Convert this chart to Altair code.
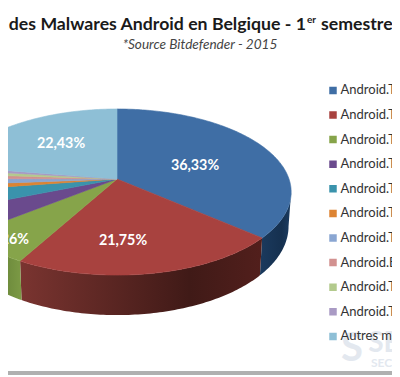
import math
import altair as alt

names = ["Android.Trojan.FakeInst", "Android.Trojan.SMSSend", "Android.Trojan.Agent",
         "Android.Trojan.Wkload", "Android.Trojan.Opfake", "Android.Trojan.Stealer",
         "Android.Trojan.Boxer", "Android.Exploit.GingerBreak", "Android.Trojan.Gepew",
         "Android.Trojan.Iop", "Autres malwares"]
values = [36.33, 21.75, 6.26, 4.6, 3.7, 1.15, 1.3, 0.9, 0.9, 0.68, 22.43]
face_colors = ["#3f6ea5", "#a8423f", "#86a44a", "#6a4a8d", "#3a93ac", "#dd8433",
               "#8aa6d2", "#d29190", "#b3ca8d", "#a99ac4", "#8ebfd6"]
side_stops = [
    ["#1b3a5e", "#15304f", "#1c3d62"],
    ["#7a3430", "#401a17", "#521f1c"],
    ["#6d8a3c", "#6d8a3c", "#7c9a45"],
    ["#4d3568", "#4d3568", "#4d3568"],
    ["#2a6f83", "#2a6f83", "#2a6f83"],
    ["#b06a28", "#b06a28", "#b06a28"],
]
title_left = "Top 10 des Malwares Android en Belgique - 1"
title_sup = "er"
title_right = "semestre 2015"
subtitle = "*Source Bitdefender - 2015"

# pie geometry (reference image coordinates)
APEX_X, APEX_Y, RX, RY, K = 117, 179, 172, 81, 0.157
FONT = "Lato"
PROJ = dict(type="identity", scale=1, translate=[-8, -8])


def rim(p):
    t = 2 * math.pi * p / 100
    d = 1 + K * math.cos(t)
    return APEX_X + RX * math.sin(t) / d, APEX_Y - RY * math.cos(t) / d


def lower(pt):
    x, y = pt
    return APEX_X + (x - APEX_X) * 0.985, y + 40 - (275 - y) * 0.07


def feature(ring, name):
    ring = [list(p) for p in ring]
    return {"type": "Feature", "properties": {"name": name},
            "geometry": {"type": "Polygon", "coordinates": [ring + [ring[0]]]}}


def frange(a, b):
    n = max(2, int((b - a) * 4))
    return [a + (b - a) * i / n for i in range(n + 1)]


layers = []
edges = [0.0]
for v in values:
    edges.append(edges[-1] + v)

# side walls
VISIBLE_FROM, VISIBLE_TO = 27.5, 75.0
for i, stops in enumerate(side_stops):
    a, b = max(edges[i], VISIBLE_FROM), min(edges[i + 1], VISIBLE_TO)
    if a >= b:
        continue
    top = [rim(p) for p in frange(a, b)]
    ring = top + [lower(p) for p in reversed(top)]
    grad = alt.Gradient(gradient="linear", x1=0, x2=1, y1=0, y2=0,
                        stops=[alt.GradientStop(color=stops[0], offset=0),
                               alt.GradientStop(color=stops[1], offset=0.7),
                               alt.GradientStop(color=stops[2], offset=1)])
    layers.append(alt.Chart(alt.Data(values=[feature(ring, names[i])]))
                  .mark_geoshape(fill=grad, strokeWidth=0, strokeOpacity=0)
                  .project(**PROJ))

# top face
faces = [feature([(APEX_X, APEX_Y)] + [rim(p) for p in frange(edges[i], edges[i + 1])], names[i])
         for i in range(len(names))]
color_scale = alt.Scale(domain=names, range=face_colors)
layers.append(
    alt.Chart(alt.Data(values=faces)).mark_geoshape(strokeWidth=0.6).encode(
        color=alt.Color("properties.name:N", scale=color_scale, sort=names,
                        legend=alt.Legend(title=None, orient="none", legendX=318.5, legendY=75.3,
                                          symbolType="square", symbolSize=56, symbolStrokeWidth=0,
                                          labelFont=FONT, labelFontSize=13, labelColor="#333333",
                                          labelLimit=300, labelOffset=1, rowPadding=9.6,
                                          symbolOpacity=1, clipHeight=14.2)),
        stroke=alt.Stroke("properties.name:N", scale=color_scale, legend=None),
    ).project(**PROJ)
)


def text(t, x, y, **kw):
    style = dict(font=FONT, baseline="middle", align="center")
    style.update(kw)
    return alt.Chart(alt.Data(values=[{"t": t}])).mark_text(**style).encode(
        text="t:N", x=alt.value(x - 8), y=alt.value(y - 8))


def pct(v):
    return f"{v:.2f}".replace(".", ",") + "%"


for idx, (x, y) in {0: (195, 165.5), 1: (123, 240.5), 2: (9, 239.5), 10: (61, 144)}.items():
    layers.append(text(pct(values[idx]), x, y, fontSize=14.3, fontWeight="bold", color="white"))

layers += [
    text(title_left, 306, 25, align="right", fontSize=17.7, fontWeight="bold", color="#1a1a1a"),
    text(title_sup, 307, 20, align="left", fontSize=10, fontWeight="bold", color="#1a1a1a"),
    text(title_right, 321, 25, align="left", fontSize=17.7, fontWeight="bold", color="#1a1a1a"),
    text(subtitle, 200, 44.5, fontSize=13.6, fontStyle="italic", color="#444444"),
    text("S", 352, 349, fontSize=40, fontWeight="bold", color="#e3e8ef"),
    text("SE", 384, 344, fontSize=28, fontWeight="bold", color="#e3e8ef"),
    text("SECU", 386, 363, fontSize=12, fontWeight="bold", color="#e3e8ef"),
    alt.Chart(alt.Data(values=[{"a": 1}])).mark_rule(color="#b0b0b0", strokeWidth=4).encode(
        x=alt.value(0), x2=alt.value(384), y=alt.value(365)),
]

chart = alt.layer(*layers).properties(
    width=384, height=368, padding=0, background="white",
    autosize=alt.AutoSizeParams(type="none"),
).configure_view(stroke=None)

chart.save("out.html", embed_options={"renderer": "svg", "actions": False})
